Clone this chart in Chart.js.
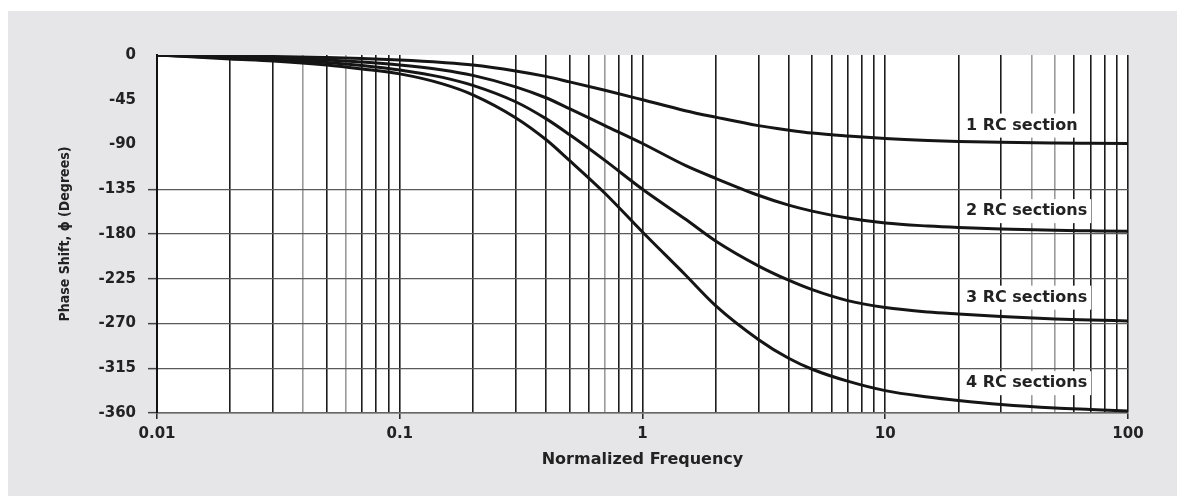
<!DOCTYPE html>
<html>
<head>
<meta charset="utf-8">
<script src="https://cdn.jsdelivr.net/npm/chart.js@4.4.0/dist/chart.umd.min.js"></script>
<style>
  html, body { margin: 0; padding: 0; background: #fff; }
  #panel { position: absolute; left: 8px; top: 11px; width: 1169px; height: 485px; background: #e6e6e8; }
  #wrap { position: absolute; left: 0; top: 0; width: 1177px; height: 496px; }
</style>
</head>
<body>
<div id="panel"></div>
<div id="wrap"><canvas id="phaseChart" width="1177" height="496"></canvas></div>
<script>
// normalized frequency points
const freq = [0.01, 0.02, 0.03, 0.05, 0.07, 0.1, 0.15, 0.2, 0.3, 0.4, 0.5, 0.7, 1, 1.5, 2, 3, 4, 5, 7, 10, 15, 20, 30, 50, 70, 100];

// phase shift (degrees) for each curve
const oneRC   = [0, -1, -1.5, -2.5, -3.5, -5, -7.5, -10, -16, -21.5, -27, -35.5, -45, -56, -62.5, -71, -75.5, -78.5, -81.5, -84, -86, -87, -87.8, -88.4, -88.7, -89];
const twoRC   = [0, -2, -3, -5, -7, -10, -15, -20.5, -32, -43, -54, -71, -89, -111, -124, -141, -151, -157, -164, -169, -172, -173.5, -175, -176.3, -176.8, -177.3];
const threeRC = [0, -3, -4.5, -7.5, -10.5, -15, -22.5, -30.5, -47, -64, -80, -106, -135, -165, -187, -212, -226.5, -236, -247, -254, -258.5, -260.5, -263, -265.5, -266.5, -267.5];
const fourRC  = [0, -4, -6, -10, -14, -19, -29, -40, -63, -85, -106, -139, -178, -221, -252, -286, -305, -316, -328, -337.5, -344, -347.5, -351.5, -355, -356.5, -358];

const seriesNames = ['1 RC section', '2 RC sections', '3 RC sections', '4 RC sections'];
const labelFreq = 21.5;
const labelPhase = [-71, -157, -244, -330];

const yTicks = [0, -45, -90, -135, -180, -225, -270, -315, -360];
const xDecades = [0.01, 0.1, 1, 10, 100];
const xDecadeLabels = ['0.01', '0.1', '1', '10', '100'];
const lightLines = [0.04, 0.06, 0.7, 40, 50]; // the fainter grid lines in the scan

// grid positions 1..9 in every decade
var xGrid = [];
xDecades.slice(0, 4).forEach(function (d) {
  for (var m = 1; m < 10; m++) xGrid.push(Number((m * d).toPrecision(3)));
});
xGrid.push(100);

function near(a, b) { return Math.abs(a - b) / b < 1e-6; }
function decadeIndex(v) {
  for (var i = 0; i < xDecades.length; i++) if (near(v, xDecades[i])) return i;
  return -1;
}

const tickFont = { family: "'DejaVu Sans', sans-serif", weight: 'bold', size: 15 };

const rcLabels = {
  id: 'rcLabels',
  afterDatasetsDraw(chart) {
    const ctx = chart.ctx;
    const xs = chart.scales.x, ys = chart.scales.y;
    ctx.save();
    ctx.font = "bold 16px 'DejaVu Sans', sans-serif";
    ctx.textAlign = 'left';
    ctx.textBaseline = 'middle';
    seriesNames.forEach(function (name, i) {
      var x = xs.getPixelForValue(labelFreq);
      var y = ys.getPixelForValue(labelPhase[i]);
      var w = ctx.measureText(name).width;
      ctx.fillStyle = '#fff';
      ctx.fillRect(x - 4, y - 12, w + 8, 24);
      ctx.fillStyle = '#222';
      ctx.fillText(name, x, y);
    });
    ctx.restore();
  }
};

const plotBg = {
  id: 'plotBg',
  beforeDraw(chart) {
    const a = chart.chartArea;
    chart.ctx.save();
    chart.ctx.fillStyle = '#fff';
    chart.ctx.fillRect(a.left, a.top, a.right - a.left, a.bottom - a.top);
    chart.ctx.restore();
  }
};

const curves = [oneRC, twoRC, threeRC, fourRC];

new Chart(document.getElementById('phaseChart'), {
  type: 'line',
  data: {
    datasets: curves.map(function (vals, i) {
      return {
        label: seriesNames[i],
        data: freq.map(function (f, j) { return { x: f, y: vals[j] }; }),
        borderColor: '#151515',
        borderWidth: 3,
        pointRadius: 0,
        fill: false,
        cubicInterpolationMode: 'monotone'
      };
    })
  },
  options: {
    responsive: false,
    devicePixelRatio: 1,
    animation: false,
    layout: { padding: { left: 0, right: 49, top: 55, bottom: 0 } },
    plugins: { legend: { display: false }, tooltip: { enabled: false } },
    scales: {
      x: {
        type: 'logarithmic',
        min: 0.01,
        max: 100,
        afterBuildTicks: function (scale) {
          scale.ticks = xGrid.map(function (v) { return { value: v }; });
        },
        afterFit: function (scale) { scale.height = 83; },
        ticks: {
          autoSkip: false,
          maxRotation: 0,
          padding: 6,
          color: '#222',
          font: tickFont,
          callback: function (value) {
            var k = decadeIndex(value);
            return k >= 0 ? xDecadeLabels[k] : '';
          }
        },
        grid: {
          color: function (c) {
            var v = c.tick.value;
            return lightLines.some(function (l) { return near(v, l); }) ? '#9a9a9a' : '#1c1c1c';
          },
          lineWidth: 1.6,
          tickLength: 6,
          tickColor: function (c) { return decadeIndex(c.tick.value) >= 0 ? '#222' : 'rgba(0,0,0,0)'; },
          tickWidth: 1.5
        },
        border: { color: '#666', width: 1.4 },
        title: {
          display: true,
          text: 'Normalized Frequency',
          color: '#222',
          font: { family: "'DejaVu Sans', sans-serif", weight: 'bold', size: 16 },
          padding: { top: 0, bottom: 27 }
        }
      },
      y: {
        min: -360,
        max: 0,
        afterBuildTicks: function (scale) {
          scale.ticks = yTicks.map(function (v) { return { value: v }; });
        },
        afterFit: function (scale) { scale.width = 157; },
        ticks: {
          stepSize: 45,
          padding: 12,
          color: '#222',
          font: tickFont
        },
        grid: {
          color: function (c) { return c.tick.value <= -135 ? '#5a5a5a' : 'rgba(0,0,0,0)'; },
          lineWidth: 1.3,
          tickLength: 9,
          tickColor: function (c) { return c.tick.value <= -135 ? '#444' : 'rgba(0,0,0,0)'; },
          tickWidth: 1.5
        },
        border: { color: '#111', width: 2 },
        title: {
          display: true,
          text: 'Phase Shift, ϕ (Degrees)',
          color: '#222',
          font: { family: "'DejaVu Sans Condensed', 'DejaVu Sans', sans-serif", weight: 'bold', size: 14 },
          padding: { top: 57, bottom: 0 }
        }
      }
    }
  },
  plugins: [plotBg, rcLabels]
});
</script>
</body>
</html>
